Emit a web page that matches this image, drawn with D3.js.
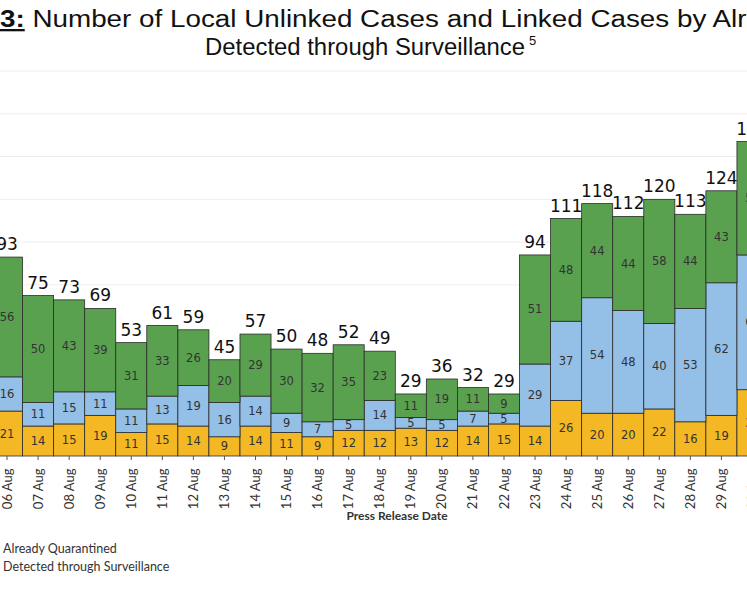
<!DOCTYPE html>
<html><head><meta charset="utf-8">
<script src="https://cdn.jsdelivr.net/npm/d3@7"></script>
<style>body{margin:0;background:#fff}svg{display:block}</style>
</head><body><svg id="c" width="747" height="598"></svg>
<script>
const dates = ["06 Aug","07 Aug","08 Aug","09 Aug","10 Aug","11 Aug","12 Aug","13 Aug","14 Aug","15 Aug","16 Aug","17 Aug","18 Aug","19 Aug","20 Aug","21 Aug","22 Aug","23 Aug","24 Aug","25 Aug","26 Aug","27 Aug","28 Aug","29 Aug","30 Aug"];
const quarantined = [21,14,15,19,11,15,14,9,14,11,9,12,12,13,12,14,15,14,26,20,20,22,16,19,31];
const surveillance = [16,11,15,11,11,13,19,16,14,9,7,5,14,5,5,7,5,29,37,54,48,40,53,62,63];
const unlinked = [56,50,43,39,31,33,26,20,29,30,32,35,23,11,19,11,9,51,48,44,44,58,44,43,53];
const gridTicks = [80,100,120,140,160,180];
const seriesNames = ["Already Quarantined","Detected through Surveillance"];
const colors = ["#F3B823","#94BFE6","#59A14F"];

const svg = d3.select("#c");
const x = d3.scaleBand().domain(dates).range([-8.5, 768]).padding(0);
const y = d3.scaleLinear().domain([0, 180]).range([456, 71]);
const baseY = 456;

svg.append("g").selectAll("line").data(gridTicks).join("line")
  .attr("x1",0).attr("x2",747).attr("y1",d=>y(d)).attr("y2",d=>y(d))
  .attr("stroke","#eeeeee").attr("stroke-width",1);

const rows = dates.map((d,i)=>({date:d, q:quarantined[i], s:surveillance[i], u:unlinked[i]}));
const stack = d3.stack().keys(["q","s","u"])(rows);

stack.forEach((layer,k)=>{
  const g = svg.append("g");
  g.selectAll("rect").data(layer).join("rect")
    .attr("x",d=>x(d.data.date)).attr("width",x.bandwidth())
    .attr("y",d=>y(d[1])).attr("height",d=>y(d[0])-y(d[1]))
    .attr("fill",colors[k]).attr("stroke","#2b2b2b").attr("stroke-width",0.8);
  g.selectAll("text").data(layer).join("text")
    .attr("x",d=>x(d.data.date)+x.bandwidth()/2).attr("y",d=>(y(d[0])+y(d[1]))/2+4)
    .attr("text-anchor","middle").attr("font-family","DejaVu Sans").attr("font-size",11.5)
    .attr("fill","#333").text(d=>d[1]-d[0]);
});

svg.append("g").selectAll("text").data(rows).join("text")
  .attr("x",d=>x(d.date)+x.bandwidth()/2).attr("y",d=>y(d.q+d.s+d.u)-7)
  .attr("text-anchor","middle").attr("font-family","DejaVu Sans").attr("font-size",17)
  .attr("fill","#111").text(d=>d.q+d.s+d.u);

const ax = svg.append("g").attr("transform",`translate(0,${baseY})`)
  .call(d3.axisBottom(x).tickSize(4).tickSizeOuter(0));
ax.select(".domain").remove();
ax.selectAll("line").attr("stroke","#555");
ax.selectAll("text").attr("font-family","Lato").attr("font-size",13).attr("fill","#333")
  .attr("transform","rotate(-90)").attr("text-anchor","end").attr("dx","-0.5em").attr("dy","0.35em").attr("y",0).attr("x",-6);

svg.append("text").attr("x",397).attr("y",520).attr("text-anchor","middle")
  .attr("font-family","Lato").attr("font-weight","bold").attr("font-size",12).attr("fill","#333")
  .text("Press Release Date");

svg.append("g").selectAll("text").data(seriesNames).join("text")
  .attr("x",3).attr("y",(d,i)=>553+i*18).attr("font-family","Lato").attr("font-size",12.5)
  .attr("fill","#333").text(d=>d);

svg.append("text").attr("x",0).attr("y",27).attr("text-anchor","end").attr("font-family","Liberation Sans")
  .attr("font-size",23).attr("font-weight","bold").attr("text-decoration","underline").text("Figure ");
const t1 = svg.append("text").attr("x",0).attr("y",27).attr("font-family","Liberation Sans").attr("font-size",23).attr("fill","#111")
  .attr("textLength",1000).attr("lengthAdjust","spacingAndGlyphs");
t1.append("tspan").attr("font-weight","bold").attr("text-decoration","underline").text("3:");
t1.append("tspan").text(" Number of Local Unlinked Cases and Linked Cases by Already Quarantined or");
const t2 = svg.append("text").attr("x",365).attr("y",55).attr("text-anchor","middle").attr("font-family","Liberation Sans").attr("font-size",23).attr("fill","#111")
  .attr("textLength",320).attr("lengthAdjust","spacingAndGlyphs");
t2.append("tspan").text("Detected through Surveillance");
const sup = svg.append("text").attr("x",529).attr("y",45).attr("font-family","Liberation Sans").attr("font-size",13).attr("fill","#111").text("5");
</script></body></html>
